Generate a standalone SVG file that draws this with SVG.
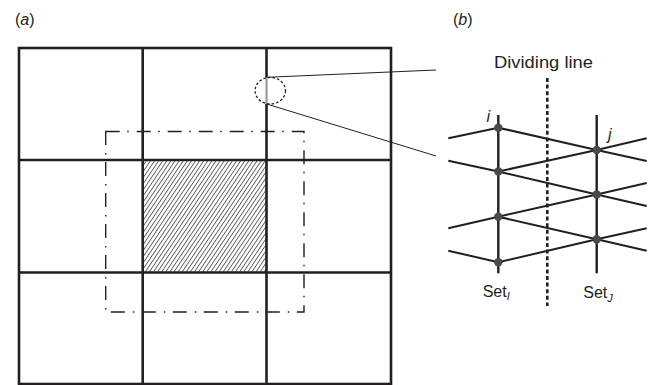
<svg xmlns="http://www.w3.org/2000/svg" width="662" height="385" viewBox="0 0 662 385">
  <style>
    text { font-family: "Liberation Sans", Arial, sans-serif; fill: #231f20; }
    .lbl { font-size: 16px; }
    .it { font-style: italic; }
    .grid { stroke: #231f20; stroke-width: 2.6; fill: none; }
    .dd { stroke: #231f20; stroke-width: 1.4; fill: none; stroke-dasharray: 14 7.5 1.5 8; }
    .thin { stroke: #231f20; stroke-width: 1; fill: none; }
    .edge { stroke: #231f20; stroke-width: 2; fill: none; stroke-linejoin: round; }
    .set { stroke: #231f20; stroke-width: 2.4; fill: none; }
    .node { fill: #4a4a4a; }
  </style>
  <defs>
    <pattern id="hatch" patternUnits="userSpaceOnUse" width="3.4" height="6" patternTransform="rotate(34)">
      <rect x="0" y="0" width="0.9" height="6" fill="#5a5a5a"/>
    </pattern>
  </defs>

  <rect width="662" height="385" fill="#ffffff"/>

  <!-- Panel labels -->
  <text class="lbl" x="15" y="25">(<tspan class="it">a</tspan>)</text>
  <text class="lbl" x="453" y="25">(<tspan class="it">b</tspan>)</text>

  <!-- Panel (a) -->
  <g id="panel-a">
    <rect id="center-cell" x="142.7" y="160" width="123.8" height="112.5" fill="url(#hatch)"/>
    <g id="grid">
      <rect class="grid" x="19" y="48" width="372" height="336"/>
      <line class="grid" x1="142.7" y1="48" x2="142.7" y2="384"/>
      <line class="grid" x1="266.5" y1="48" x2="266.5" y2="77.5"/>
      <line class="grid" x1="266.5" y1="104" x2="266.5" y2="384"/>
      <line x1="266.5" y1="77.5" x2="266.5" y2="104" stroke="#9a9a9a" stroke-width="2.2"/>
      <line class="grid" x1="19" y1="160" x2="391" y2="160"/>
      <line class="grid" x1="19" y1="272.5" x2="391" y2="272.5"/>
    </g>
    <rect id="neighborhood" class="dd" x="105.7" y="131.5" width="198.3" height="180.5"/>
    <ellipse id="zoom-circle" cx="270.3" cy="90.7" rx="15.2" ry="13.3" fill="none" stroke="#231f20" stroke-width="1.3" stroke-dasharray="2.6 2"/>
    <line class="thin" x1="266.7" y1="77.3" x2="436" y2="70"/>
    <line class="thin" x1="266.7" y1="104" x2="436" y2="156"/>
  </g>

  <!-- Panel (b) -->
  <g id="panel-b">
    <line id="dividing-line" x1="547.3" y1="78" x2="547.3" y2="306" stroke="#231f20" stroke-width="2.6" stroke-dasharray="4 2.6"/>
    <text x="494" y="68" font-size="17" textLength="99" lengthAdjust="spacingAndGlyphs">Dividing line</text>

    <g id="set-I">
      <line class="set" x1="498.3" y1="115" x2="498.3" y2="273.3"/>
      <text class="lbl" x="482.7" y="297">Set<tspan class="it" font-size="11" dy="3">I</tspan></text>
    </g>
    <g id="set-J">
      <line class="set" x1="596.7" y1="115" x2="596.7" y2="273.3"/>
      <text class="lbl" x="583.3" y="298">Set<tspan class="it" font-size="11" dy="4">J</tspan></text>
    </g>

    <g id="connectors">
      <polyline class="edge" points="448.3,138.3 498.3,127.7 596.7,150 646.7,161"/>
      <polyline class="edge" points="448.3,160.7 498.3,171.5 596.7,194.5 646.7,206"/>
      <polyline class="edge" points="498.3,171.5 596.7,150 646.7,138.3"/>
      <polyline class="edge" points="448.3,228.3 498.3,216.7 596.7,194.5 646.7,183"/>
      <polyline class="edge" points="498.3,216.7 596.7,239.3 646.7,250.7"/>
      <polyline class="edge" points="448.3,250.7 498.3,262.3 596.7,239.3 646.7,228.3"/>
    </g>

    <g id="node-i1"><circle class="node" cx="498.3" cy="127.7" r="4.2"/><text class="lbl it" x="486.5" y="121.5">i</text></g>
    <g id="node-i2"><circle class="node" cx="498.3" cy="171.5" r="4.2"/></g>
    <g id="node-i3"><circle class="node" cx="498.3" cy="216.7" r="4.2"/></g>
    <g id="node-i4"><circle class="node" cx="498.3" cy="262.3" r="4.2"/></g>
    <g id="node-j1"><circle class="node" cx="596.7" cy="150" r="4.2"/><text class="lbl it" x="608" y="140">j</text></g>
    <g id="node-j2"><circle class="node" cx="596.7" cy="194.5" r="4.2"/></g>
    <g id="node-j3"><circle class="node" cx="596.7" cy="239.3" r="4.2"/></g>
  </g>
</svg>
